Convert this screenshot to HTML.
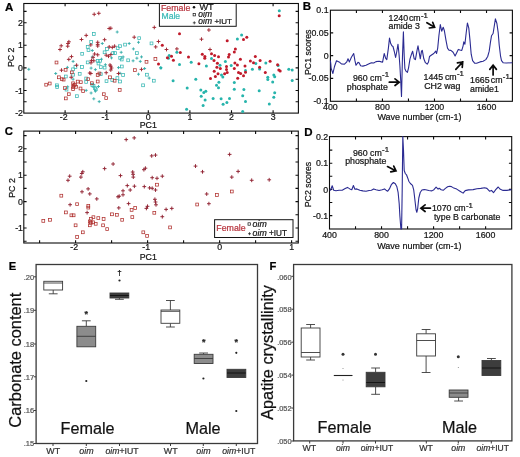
<!DOCTYPE html>
<html><head><meta charset="utf-8"><title>Figure</title>
<style>
html,body{margin:0;padding:0;background:#fff;}
body{width:520px;height:457px;overflow:hidden;}
svg{display:block;font-family:"Liberation Sans",sans-serif;filter:blur(0.3px);}
text{stroke-width:0.22px;}
</style></head><body>
<svg width="520" height="457" viewBox="0 0 520 457">
<rect width="520" height="457" fill="#fff"/>
<g id="panelA">
<rect x="23.8" y="3.5" width="274.6" height="109.6" stroke="#0c0c0c" fill="none" stroke-width="1.1"/>
<path d="M65.1 113.1v-2.8M65.1 3.5v2.8M106.7 113.1v-2.8M106.7 3.5v2.8M148.3 113.1v-2.8M148.3 3.5v2.8M189.9 113.1v-2.8M189.9 3.5v2.8M231.5 113.1v-2.8M231.5 3.5v2.8M273.1 113.1v-2.8M273.1 3.5v2.8M23.8 101.8h2.8M298.4 101.8h-2.8M23.8 90.5h2.8M298.4 90.5h-2.8M23.8 79.2h2.8M298.4 79.2h-2.8M23.8 67.9h2.8M298.4 67.9h-2.8M23.8 56.6h2.8M298.4 56.6h-2.8M23.8 45.3h2.8M298.4 45.3h-2.8M23.8 34h2.8M298.4 34h-2.8M23.8 22.7h2.8M298.4 22.7h-2.8M23.8 11.4h2.8M298.4 11.4h-2.8" stroke="#0c0c0c" stroke-width="1.1" fill="none"/>
<text x="5.1" y="10.5" font-size="11.5" fill="#000" stroke="#000" font-weight="bold">A</text>
<text x="23" y="25.8" font-size="8.8" fill="#141414" stroke="#141414" text-anchor="end">2</text>
<text x="23" y="48.4" font-size="8.8" fill="#141414" stroke="#141414" text-anchor="end">1</text>
<text x="23" y="71" font-size="8.8" fill="#141414" stroke="#141414" text-anchor="end">0</text>
<text x="23" y="93.6" font-size="8.8" fill="#141414" stroke="#141414" text-anchor="end">-1</text>
<text x="23" y="116.2" font-size="8.8" fill="#141414" stroke="#141414" text-anchor="end">-2</text>
<text x="63.7" y="119.5" font-size="8.8" fill="#141414" stroke="#141414" text-anchor="middle">-2</text>
<text x="105.3" y="119.5" font-size="8.8" fill="#141414" stroke="#141414" text-anchor="middle">-1</text>
<text x="148.3" y="119.5" font-size="8.8" fill="#141414" stroke="#141414" text-anchor="middle">0</text>
<text x="189.9" y="119.5" font-size="8.8" fill="#141414" stroke="#141414" text-anchor="middle">1</text>
<text x="231.5" y="119.5" font-size="8.8" fill="#141414" stroke="#141414" text-anchor="middle">2</text>
<text x="273.1" y="119.5" font-size="8.8" fill="#141414" stroke="#141414" text-anchor="middle">3</text>
<text x="148.3" y="127.6" font-size="8.8" fill="#141414" stroke="#141414" text-anchor="middle">PC1</text>
<text x="14.5" y="57.3" font-size="8.8" fill="#141414" stroke="#141414" text-anchor="middle" transform="rotate(-90 14.5 57.3)">PC 2</text>
<g id="ptsA"><rect x="92.4" y="32.6" width="2.8" height="2.8" fill="none" stroke="#34b6b2" stroke-width="0.75"/>
<rect x="89.8" y="40.6" width="2.8" height="2.8" fill="none" stroke="#34b6b2" stroke-width="0.75"/>
<rect x="86.3" y="45.5" width="2.8" height="2.8" fill="none" stroke="#34b6b2" stroke-width="0.75"/>
<rect x="87.1" y="48.8" width="2.8" height="2.8" fill="none" stroke="#34b6b2" stroke-width="0.75"/>
<rect x="80.8" y="52.4" width="2.8" height="2.8" fill="none" stroke="#34b6b2" stroke-width="0.75"/>
<rect x="86.3" y="61" width="2.8" height="2.8" fill="none" stroke="#34b6b2" stroke-width="0.75"/>
<rect x="80.6" y="65.6" width="2.8" height="2.8" fill="none" stroke="#34b6b2" stroke-width="0.75"/>
<rect x="74" y="65.6" width="2.8" height="2.8" fill="none" stroke="#34b6b2" stroke-width="0.75"/>
<rect x="96.3" y="59.4" width="2.8" height="2.8" fill="none" stroke="#34b6b2" stroke-width="0.75"/>
<rect x="71.7" y="67.9" width="2.8" height="2.8" fill="none" stroke="#34b6b2" stroke-width="0.75"/>
<rect x="78.3" y="72.4" width="2.8" height="2.8" fill="none" stroke="#34b6b2" stroke-width="0.75"/>
<rect x="64.4" y="75.1" width="2.8" height="2.8" fill="none" stroke="#34b6b2" stroke-width="0.75"/>
<rect x="71.7" y="73.3" width="2.8" height="2.8" fill="none" stroke="#34b6b2" stroke-width="0.75"/>
<rect x="84.8" y="77.1" width="2.8" height="2.8" fill="none" stroke="#34b6b2" stroke-width="0.75"/>
<rect x="84.8" y="80.5" width="2.8" height="2.8" fill="none" stroke="#34b6b2" stroke-width="0.75"/>
<rect x="55.5" y="83.9" width="2.8" height="2.8" fill="none" stroke="#34b6b2" stroke-width="0.75"/>
<rect x="55.8" y="85.6" width="2.8" height="2.8" fill="none" stroke="#34b6b2" stroke-width="0.75"/>
<rect x="65.1" y="88.2" width="2.8" height="2.8" fill="none" stroke="#34b6b2" stroke-width="0.75"/>
<rect x="75.5" y="94.8" width="2.8" height="2.8" fill="none" stroke="#34b6b2" stroke-width="0.75"/>
<rect x="92.1" y="84.4" width="2.8" height="2.8" fill="none" stroke="#34b6b2" stroke-width="0.75"/>
<rect x="93.5" y="86.7" width="2.8" height="2.8" fill="none" stroke="#34b6b2" stroke-width="0.75"/>
<rect x="97.1" y="62.1" width="2.8" height="2.8" fill="none" stroke="#34b6b2" stroke-width="0.75"/>
<rect x="137.8" y="36.8" width="2.8" height="2.8" fill="none" stroke="#34b6b2" stroke-width="0.75"/>
<rect x="150.1" y="42" width="2.8" height="2.8" fill="none" stroke="#34b6b2" stroke-width="0.75"/>
<rect x="123.7" y="43.2" width="2.8" height="2.8" fill="none" stroke="#34b6b2" stroke-width="0.75"/>
<rect x="118.6" y="44.8" width="2.8" height="2.8" fill="none" stroke="#34b6b2" stroke-width="0.75"/>
<rect x="116.3" y="46.8" width="2.8" height="2.8" fill="none" stroke="#34b6b2" stroke-width="0.75"/>
<rect x="135.5" y="51.7" width="2.8" height="2.8" fill="none" stroke="#34b6b2" stroke-width="0.75"/>
<rect x="111.7" y="51.7" width="2.8" height="2.8" fill="none" stroke="#34b6b2" stroke-width="0.75"/>
<rect x="113.6" y="51.7" width="2.8" height="2.8" fill="none" stroke="#34b6b2" stroke-width="0.75"/>
<rect x="103.2" y="50.9" width="2.8" height="2.8" fill="none" stroke="#34b6b2" stroke-width="0.75"/>
<rect x="118.8" y="56.5" width="2.8" height="2.8" fill="none" stroke="#34b6b2" stroke-width="0.75"/>
<rect x="120.3" y="58.1" width="2.8" height="2.8" fill="none" stroke="#34b6b2" stroke-width="0.75"/>
<rect x="126.8" y="58.9" width="2.8" height="2.8" fill="none" stroke="#34b6b2" stroke-width="0.75"/>
<rect x="98.8" y="59.4" width="2.8" height="2.8" fill="none" stroke="#34b6b2" stroke-width="0.75"/>
<rect x="120.4" y="65.1" width="2.8" height="2.8" fill="none" stroke="#34b6b2" stroke-width="0.75"/>
<rect x="99.4" y="65.7" width="2.8" height="2.8" fill="none" stroke="#34b6b2" stroke-width="0.75"/>
<rect x="103.2" y="66.2" width="2.8" height="2.8" fill="none" stroke="#34b6b2" stroke-width="0.75"/>
<rect x="145.5" y="73.3" width="2.8" height="2.8" fill="none" stroke="#34b6b2" stroke-width="0.75"/>
<rect x="152.4" y="79.3" width="2.8" height="2.8" fill="none" stroke="#34b6b2" stroke-width="0.75"/>
<rect x="141.7" y="83.9" width="2.8" height="2.8" fill="none" stroke="#34b6b2" stroke-width="0.75"/>
<rect x="121.7" y="73.6" width="2.8" height="2.8" fill="none" stroke="#34b6b2" stroke-width="0.75"/>
<rect x="118.6" y="80.1" width="2.8" height="2.8" fill="none" stroke="#34b6b2" stroke-width="0.75"/>
<rect x="116" y="76.7" width="2.8" height="2.8" fill="none" stroke="#34b6b2" stroke-width="0.75"/>
<rect x="105.1" y="79.8" width="2.8" height="2.8" fill="none" stroke="#34b6b2" stroke-width="0.75"/>
<rect x="110.9" y="78.6" width="2.8" height="2.8" fill="none" stroke="#34b6b2" stroke-width="0.75"/>
<rect x="99.4" y="72.8" width="2.8" height="2.8" fill="none" stroke="#34b6b2" stroke-width="0.75"/>
<rect x="94.4" y="87.9" width="2.8" height="2.8" fill="none" stroke="#34b6b2" stroke-width="0.75"/>
<rect x="90.9" y="83.6" width="2.8" height="2.8" fill="none" stroke="#34b6b2" stroke-width="0.75"/>
<rect x="105.6" y="47.6" width="2.8" height="2.8" fill="none" stroke="#34b6b2" stroke-width="0.75"/>
<path d="M71.6 61.4h3M73.1 59.9v3" stroke="#2eaaa6" stroke-width="0.85" fill="none"/>
<path d="M90.8 50.5h3M92.3 49v3" stroke="#2eaaa6" stroke-width="0.85" fill="none"/>
<path d="M90.8 57h3M92.3 55.5v3" stroke="#2eaaa6" stroke-width="0.85" fill="none"/>
<path d="M27.3 69.3h3M28.8 67.8v3" stroke="#2eaaa6" stroke-width="0.85" fill="none"/>
<path d="M65.9 67.4h3M67.4 65.9v3" stroke="#2eaaa6" stroke-width="0.85" fill="none"/>
<path d="M54.2 73.5h3M55.7 72v3" stroke="#2eaaa6" stroke-width="0.85" fill="none"/>
<path d="M89.6 68.1h3M91.1 66.6v3" stroke="#2eaaa6" stroke-width="0.85" fill="none"/>
<path d="M93.9 69.6h3M95.4 68.1v3" stroke="#2eaaa6" stroke-width="0.85" fill="none"/>
<path d="M66.2 86.8h3M67.7 85.3v3" stroke="#2eaaa6" stroke-width="0.85" fill="none"/>
<path d="M84.7 90.4h3M86.2 88.9v3" stroke="#2eaaa6" stroke-width="0.85" fill="none"/>
<path d="M89.6 93h3M91.1 91.5v3" stroke="#2eaaa6" stroke-width="0.85" fill="none"/>
<path d="M92.3 98.8h3M93.8 97.3v3" stroke="#2eaaa6" stroke-width="0.85" fill="none"/>
<path d="M97.7 101.6h3M99.2 100.1v3" stroke="#2eaaa6" stroke-width="0.85" fill="none"/>
<path d="M71.6 79.2h3M73.1 77.7v3" stroke="#2eaaa6" stroke-width="0.85" fill="none"/>
<path d="M93.9 91.2h3M95.4 89.7v3" stroke="#2eaaa6" stroke-width="0.85" fill="none"/>
<path d="M115.7 32h3M117.2 30.5v3" stroke="#2eaaa6" stroke-width="0.85" fill="none"/>
<path d="M127.7 43.5h3M129.2 42v3" stroke="#2eaaa6" stroke-width="0.85" fill="none"/>
<path d="M131.9 48.9h3M133.4 47.4v3" stroke="#2eaaa6" stroke-width="0.85" fill="none"/>
<path d="M137 42.3h3M138.5 40.8v3" stroke="#2eaaa6" stroke-width="0.85" fill="none"/>
<path d="M119.7 52.3h3M121.2 50.8v3" stroke="#2eaaa6" stroke-width="0.85" fill="none"/>
<path d="M100.8 43.5h3M102.3 42v3" stroke="#2eaaa6" stroke-width="0.85" fill="none"/>
<path d="M135.4 58.2h3M136.9 56.7v3" stroke="#2eaaa6" stroke-width="0.85" fill="none"/>
<path d="M140 56.9h3M141.5 55.4v3" stroke="#2eaaa6" stroke-width="0.85" fill="none"/>
<path d="M138.8 61.4h3M140.3 59.9v3" stroke="#2eaaa6" stroke-width="0.85" fill="none"/>
<path d="M131.6 60.8h3M133.1 59.3v3" stroke="#2eaaa6" stroke-width="0.85" fill="none"/>
<path d="M121.6 56.9h3M123.1 55.4v3" stroke="#2eaaa6" stroke-width="0.85" fill="none"/>
<path d="M159.3 67.5h3M160.8 66v3" stroke="#2eaaa6" stroke-width="0.85" fill="none"/>
<path d="M100 59.2h3M101.5 57.7v3" stroke="#2eaaa6" stroke-width="0.85" fill="none"/>
<path d="M117 67.6h3M118.5 66.1v3" stroke="#2eaaa6" stroke-width="0.85" fill="none"/>
<path d="M110 57.9h3M111.5 56.4v3" stroke="#2eaaa6" stroke-width="0.85" fill="none"/>
<path d="M143.1 68.5h3M144.6 67v3" stroke="#2eaaa6" stroke-width="0.85" fill="none"/>
<path d="M137 74.2h3M138.5 72.7v3" stroke="#2eaaa6" stroke-width="0.85" fill="none"/>
<path d="M147.7 78.1h3M149.2 76.6v3" stroke="#2eaaa6" stroke-width="0.85" fill="none"/>
<path d="M103.9 64.7h3M105.4 63.2v3" stroke="#2eaaa6" stroke-width="0.85" fill="none"/>
<path d="M118.5 73.2h3M120 71.7v3" stroke="#2eaaa6" stroke-width="0.85" fill="none"/>
<path d="M97 86.5h3M98.5 85v3" stroke="#2eaaa6" stroke-width="0.85" fill="none"/>
<circle cx="169.2" cy="55.5" r="1.5" fill="#27b4ac"/>
<circle cx="168.5" cy="58.3" r="1.5" fill="#27b4ac"/>
<circle cx="237.4" cy="38.9" r="1.5" fill="#27b4ac"/>
<circle cx="191.2" cy="62.3" r="1.5" fill="#27b4ac"/>
<circle cx="179.5" cy="64.6" r="1.5" fill="#27b4ac"/>
<circle cx="211.5" cy="58.5" r="1.5" fill="#27b4ac"/>
<circle cx="225.4" cy="61.5" r="1.5" fill="#27b4ac"/>
<circle cx="206.4" cy="66.1" r="1.5" fill="#27b4ac"/>
<circle cx="231.2" cy="65.4" r="1.5" fill="#27b4ac"/>
<circle cx="220" cy="65.2" r="1.5" fill="#27b4ac"/>
<circle cx="176.9" cy="52.3" r="1.5" fill="#27b4ac"/>
<circle cx="173.1" cy="80.7" r="1.5" fill="#27b4ac"/>
<circle cx="195.8" cy="79.2" r="1.5" fill="#27b4ac"/>
<circle cx="187.2" cy="88.1" r="1.5" fill="#27b4ac"/>
<circle cx="200.8" cy="89.9" r="1.5" fill="#27b4ac"/>
<circle cx="203.8" cy="92.4" r="1.5" fill="#27b4ac"/>
<circle cx="205.8" cy="91.2" r="1.5" fill="#27b4ac"/>
<circle cx="201.2" cy="96.2" r="1.5" fill="#27b4ac"/>
<circle cx="205.1" cy="99.9" r="1.5" fill="#27b4ac"/>
<circle cx="203.1" cy="105.5" r="1.5" fill="#27b4ac"/>
<circle cx="186.6" cy="109.3" r="1.5" fill="#27b4ac"/>
<circle cx="213.1" cy="98.4" r="1.5" fill="#27b4ac"/>
<circle cx="221.1" cy="98.8" r="1.5" fill="#27b4ac"/>
<circle cx="223.1" cy="104.2" r="1.5" fill="#27b4ac"/>
<circle cx="226.9" cy="102.4" r="1.5" fill="#27b4ac"/>
<circle cx="229.5" cy="98.5" r="1.5" fill="#27b4ac"/>
<circle cx="218.9" cy="82.2" r="1.5" fill="#27b4ac"/>
<circle cx="216.5" cy="85.3" r="1.5" fill="#27b4ac"/>
<circle cx="218.5" cy="87.8" r="1.5" fill="#27b4ac"/>
<circle cx="234.3" cy="82.5" r="1.5" fill="#27b4ac"/>
<circle cx="234.3" cy="89.2" r="1.5" fill="#27b4ac"/>
<circle cx="221.5" cy="75" r="1.5" fill="#27b4ac"/>
<circle cx="222.8" cy="77" r="1.5" fill="#27b4ac"/>
<circle cx="160.8" cy="68.1" r="1.5" fill="#27b4ac"/>
<circle cx="279.3" cy="10.8" r="1.5" fill="#27b4ac"/>
<circle cx="241.6" cy="35.1" r="1.5" fill="#27b4ac"/>
<circle cx="265.8" cy="63.1" r="1.5" fill="#27b4ac"/>
<circle cx="255.8" cy="63.6" r="1.5" fill="#27b4ac"/>
<circle cx="278.1" cy="65.4" r="1.5" fill="#27b4ac"/>
<circle cx="252.4" cy="69.3" r="1.5" fill="#27b4ac"/>
<circle cx="259.6" cy="69" r="1.5" fill="#27b4ac"/>
<circle cx="245.5" cy="70.4" r="1.5" fill="#27b4ac"/>
<circle cx="288.8" cy="69.3" r="1.5" fill="#27b4ac"/>
<circle cx="292.2" cy="70.1" r="1.5" fill="#27b4ac"/>
<circle cx="273.8" cy="75" r="1.5" fill="#27b4ac"/>
<circle cx="274.7" cy="76.8" r="1.5" fill="#27b4ac"/>
<circle cx="267.8" cy="77.3" r="1.5" fill="#27b4ac"/>
<circle cx="267.8" cy="79.6" r="1.5" fill="#27b4ac"/>
<circle cx="272.7" cy="81.9" r="1.5" fill="#27b4ac"/>
<circle cx="292.2" cy="80.4" r="1.5" fill="#27b4ac"/>
<circle cx="243.9" cy="89.6" r="1.5" fill="#27b4ac"/>
<circle cx="259.2" cy="90.7" r="1.5" fill="#27b4ac"/>
<circle cx="274.7" cy="92.7" r="1.5" fill="#27b4ac"/>
<circle cx="242.7" cy="95.8" r="1.5" fill="#27b4ac"/>
<circle cx="273.8" cy="97.3" r="1.5" fill="#27b4ac"/>
<circle cx="245.5" cy="101.5" r="1.5" fill="#27b4ac"/>
<circle cx="269.3" cy="103.9" r="1.5" fill="#27b4ac"/>
<circle cx="242.7" cy="111.5" r="1.5" fill="#27b4ac"/>
<rect x="55.1" y="61.1" width="2.8" height="2.8" fill="none" stroke="#b0302e" stroke-width="0.75"/>
<rect x="64.2" y="68.4" width="2.8" height="2.8" fill="none" stroke="#b0302e" stroke-width="0.75"/>
<rect x="70.4" y="71" width="2.8" height="2.8" fill="none" stroke="#b0302e" stroke-width="0.75"/>
<rect x="57.5" y="75.9" width="2.8" height="2.8" fill="none" stroke="#b0302e" stroke-width="0.75"/>
<rect x="60.4" y="77.8" width="2.8" height="2.8" fill="none" stroke="#b0302e" stroke-width="0.75"/>
<rect x="62.2" y="78.2" width="2.8" height="2.8" fill="none" stroke="#b0302e" stroke-width="0.75"/>
<rect x="44.8" y="83.3" width="2.8" height="2.8" fill="none" stroke="#b0302e" stroke-width="0.75"/>
<rect x="48.3" y="82.1" width="2.8" height="2.8" fill="none" stroke="#b0302e" stroke-width="0.75"/>
<rect x="63.5" y="86.7" width="2.8" height="2.8" fill="none" stroke="#b0302e" stroke-width="0.75"/>
<rect x="67.4" y="92.8" width="2.8" height="2.8" fill="none" stroke="#b0302e" stroke-width="0.75"/>
<rect x="64.4" y="97" width="2.8" height="2.8" fill="none" stroke="#b0302e" stroke-width="0.75"/>
<rect x="71.7" y="81.9" width="2.8" height="2.8" fill="none" stroke="#b0302e" stroke-width="0.75"/>
<rect x="72.4" y="83.9" width="2.8" height="2.8" fill="none" stroke="#b0302e" stroke-width="0.75"/>
<rect x="71.7" y="85.6" width="2.8" height="2.8" fill="none" stroke="#b0302e" stroke-width="0.75"/>
<rect x="73.6" y="83.3" width="2.8" height="2.8" fill="none" stroke="#b0302e" stroke-width="0.75"/>
<rect x="76.3" y="80.2" width="2.8" height="2.8" fill="none" stroke="#b0302e" stroke-width="0.75"/>
<rect x="79.4" y="80.8" width="2.8" height="2.8" fill="none" stroke="#b0302e" stroke-width="0.75"/>
<rect x="74.8" y="85.4" width="2.8" height="2.8" fill="none" stroke="#b0302e" stroke-width="0.75"/>
<rect x="71.7" y="87.6" width="2.8" height="2.8" fill="none" stroke="#b0302e" stroke-width="0.75"/>
<rect x="79.1" y="87.1" width="2.8" height="2.8" fill="none" stroke="#b0302e" stroke-width="0.75"/>
<rect x="81.7" y="89.8" width="2.8" height="2.8" fill="none" stroke="#b0302e" stroke-width="0.75"/>
<rect x="86.8" y="77.8" width="2.8" height="2.8" fill="none" stroke="#b0302e" stroke-width="0.75"/>
<rect x="90.4" y="81.8" width="2.8" height="2.8" fill="none" stroke="#b0302e" stroke-width="0.75"/>
<rect x="96.3" y="80.1" width="2.8" height="2.8" fill="none" stroke="#b0302e" stroke-width="0.75"/>
<rect x="96.3" y="73.6" width="2.8" height="2.8" fill="none" stroke="#b0302e" stroke-width="0.75"/>
<rect x="145.1" y="60.4" width="2.8" height="2.8" fill="none" stroke="#b0302e" stroke-width="0.75"/>
<rect x="154" y="57.6" width="2.8" height="2.8" fill="none" stroke="#b0302e" stroke-width="0.75"/>
<rect x="133.5" y="68.7" width="2.8" height="2.8" fill="none" stroke="#b0302e" stroke-width="0.75"/>
<rect x="118.3" y="88.5" width="2.8" height="2.8" fill="none" stroke="#b0302e" stroke-width="0.75"/>
<rect x="102.4" y="92.8" width="2.8" height="2.8" fill="none" stroke="#b0302e" stroke-width="0.75"/>
<rect x="104.8" y="96.7" width="2.8" height="2.8" fill="none" stroke="#b0302e" stroke-width="0.75"/>
<rect x="108.6" y="75.9" width="2.8" height="2.8" fill="none" stroke="#b0302e" stroke-width="0.75"/>
<rect x="98" y="72.1" width="2.8" height="2.8" fill="none" stroke="#b0302e" stroke-width="0.75"/>
<rect x="113.2" y="79.3" width="2.8" height="2.8" fill="none" stroke="#b0302e" stroke-width="0.75"/>
<path d="M92.3 14.3h3.8M94.2 12.4v3.8" stroke="#a02632" stroke-width="0.95" fill="none"/>
<path d="M96.9 13.3h3.8M98.8 11.4v3.8" stroke="#a02632" stroke-width="0.95" fill="none"/>
<path d="M84.3 35.4h3.8M86.2 33.5v3.8" stroke="#a02632" stroke-width="0.95" fill="none"/>
<path d="M79.6 39.5h3.8M81.5 37.6v3.8" stroke="#a02632" stroke-width="0.95" fill="none"/>
<path d="M67 41.8h3.8M68.9 39.9v3.8" stroke="#a02632" stroke-width="0.95" fill="none"/>
<path d="M66.1 43.5h3.8M68 41.6v3.8" stroke="#a02632" stroke-width="0.95" fill="none"/>
<path d="M65.8 46.2h3.8M67.7 44.3v3.8" stroke="#a02632" stroke-width="0.95" fill="none"/>
<path d="M59.3 45.8h3.8M61.2 43.9v3.8" stroke="#a02632" stroke-width="0.95" fill="none"/>
<path d="M58.1 49.5h3.8M60 47.6v3.8" stroke="#a02632" stroke-width="0.95" fill="none"/>
<path d="M69.6 56.6h3.8M71.5 54.7v3.8" stroke="#a02632" stroke-width="0.95" fill="none"/>
<path d="M66.9 59.4h3.8M68.8 57.5v3.8" stroke="#a02632" stroke-width="0.95" fill="none"/>
<path d="M95.8 42.3h3.8M97.7 40.4v3.8" stroke="#a02632" stroke-width="0.95" fill="none"/>
<path d="M95.8 44.4h3.8M97.7 42.5v3.8" stroke="#a02632" stroke-width="0.95" fill="none"/>
<path d="M95.8 46h3.8M97.7 44.1v3.8" stroke="#a02632" stroke-width="0.95" fill="none"/>
<path d="M88.9 44.9h3.8M90.8 43v3.8" stroke="#a02632" stroke-width="0.95" fill="none"/>
<path d="M92.7 54h3.8M94.6 52.1v3.8" stroke="#a02632" stroke-width="0.95" fill="none"/>
<path d="M89.1 62.8h3.8M91 60.9v3.8" stroke="#a02632" stroke-width="0.95" fill="none"/>
<path d="M74.7 65.2h3.8M76.6 63.3v3.8" stroke="#a02632" stroke-width="0.95" fill="none"/>
<path d="M59.6 70.2h3.8M61.5 68.3v3.8" stroke="#a02632" stroke-width="0.95" fill="none"/>
<path d="M69.3 77.3h3.8M71.2 75.4v3.8" stroke="#a02632" stroke-width="0.95" fill="none"/>
<path d="M87.8 73h3.8M89.7 71.1v3.8" stroke="#a02632" stroke-width="0.95" fill="none"/>
<path d="M89.6 60.4h3.8M91.5 58.5v3.8" stroke="#a02632" stroke-width="0.95" fill="none"/>
<path d="M107.3 28.5h3.8M109.2 26.6v3.8" stroke="#a02632" stroke-width="0.95" fill="none"/>
<path d="M108.9 28.2h3.8M110.8 26.3v3.8" stroke="#a02632" stroke-width="0.95" fill="none"/>
<path d="M152.4 27.4h3.8M154.3 25.5v3.8" stroke="#a02632" stroke-width="0.95" fill="none"/>
<path d="M132.3 37.2h3.8M134.2 35.3v3.8" stroke="#a02632" stroke-width="0.95" fill="none"/>
<path d="M102.7 39.7h3.8M104.6 37.8v3.8" stroke="#a02632" stroke-width="0.95" fill="none"/>
<path d="M107.3 46.9h3.8M109.2 45v3.8" stroke="#a02632" stroke-width="0.95" fill="none"/>
<path d="M110.4 47.4h3.8M112.3 45.5v3.8" stroke="#a02632" stroke-width="0.95" fill="none"/>
<path d="M112.7 46.2h3.8M114.6 44.3v3.8" stroke="#a02632" stroke-width="0.95" fill="none"/>
<path d="M156.6 41.5h3.8M158.5 39.6v3.8" stroke="#a02632" stroke-width="0.95" fill="none"/>
<path d="M153.8 46.9h3.8M155.7 45v3.8" stroke="#a02632" stroke-width="0.95" fill="none"/>
<path d="M164.6 49.5h3.8M166.5 47.6v3.8" stroke="#a02632" stroke-width="0.95" fill="none"/>
<path d="M104.3 55.2h3.8M106.2 53.3v3.8" stroke="#a02632" stroke-width="0.95" fill="none"/>
<path d="M106.6 56.2h3.8M108.5 54.3v3.8" stroke="#a02632" stroke-width="0.95" fill="none"/>
<path d="M108.9 54.6h3.8M110.8 52.7v3.8" stroke="#a02632" stroke-width="0.95" fill="none"/>
<path d="M91.9 60.8h3.8M93.8 58.9v3.8" stroke="#a02632" stroke-width="0.95" fill="none"/>
<path d="M108.9 66.2h3.8M110.8 64.3v3.8" stroke="#a02632" stroke-width="0.95" fill="none"/>
<path d="M109.6 68h3.8M111.5 66.1v3.8" stroke="#a02632" stroke-width="0.95" fill="none"/>
<path d="M139.6 69.4h3.8M141.5 67.5v3.8" stroke="#a02632" stroke-width="0.95" fill="none"/>
<path d="M108.1 65h3.8M110 63.1v3.8" stroke="#a02632" stroke-width="0.95" fill="none"/>
<path d="M108.9 70h3.8M110.8 68.1v3.8" stroke="#a02632" stroke-width="0.95" fill="none"/>
<path d="M104.3 72.7h3.8M106.2 70.8v3.8" stroke="#a02632" stroke-width="0.95" fill="none"/>
<path d="M116.6 73.5h3.8M118.5 71.6v3.8" stroke="#a02632" stroke-width="0.95" fill="none"/>
<path d="M91.2 57.3h3.8M93.1 55.4v3.8" stroke="#a02632" stroke-width="0.95" fill="none"/>
<path d="M88.9 73.5h3.8M90.8 71.6v3.8" stroke="#a02632" stroke-width="0.95" fill="none"/>
<path d="M207 30h3.8M208.9 28.1v3.8" stroke="#a02632" stroke-width="0.95" fill="none"/>
<path d="M199.6 39.2h3.8M201.5 37.3v3.8" stroke="#a02632" stroke-width="0.95" fill="none"/>
<path d="M175 48.9h3.8M176.9 47v3.8" stroke="#a02632" stroke-width="0.95" fill="none"/>
<path d="M208.1 49.5h3.8M210 47.6v3.8" stroke="#a02632" stroke-width="0.95" fill="none"/>
<path d="M95.8 54.8h3.8M97.7 52.9v3.8" stroke="#a02632" stroke-width="0.95" fill="none"/>
<circle cx="162.3" cy="45.2" r="1.5" fill="#c01a2a"/>
<circle cx="158.5" cy="64" r="1.5" fill="#c01a2a"/>
<circle cx="167.4" cy="57.7" r="1.5" fill="#c01a2a"/>
<circle cx="179.5" cy="33.8" r="1.5" fill="#c01a2a"/>
<circle cx="227.2" cy="40.7" r="1.5" fill="#c01a2a"/>
<circle cx="180.3" cy="52.6" r="1.5" fill="#c01a2a"/>
<circle cx="188.5" cy="57.1" r="1.5" fill="#c01a2a"/>
<circle cx="202.3" cy="54.2" r="1.5" fill="#c01a2a"/>
<circle cx="204.9" cy="56.5" r="1.5" fill="#c01a2a"/>
<circle cx="204.8" cy="58.2" r="1.5" fill="#c01a2a"/>
<circle cx="211.5" cy="53.8" r="1.5" fill="#c01a2a"/>
<circle cx="214.6" cy="55.4" r="1.5" fill="#c01a2a"/>
<circle cx="218.5" cy="56.7" r="1.5" fill="#c01a2a"/>
<circle cx="214" cy="60.6" r="1.5" fill="#c01a2a"/>
<circle cx="217.4" cy="63.3" r="1.5" fill="#c01a2a"/>
<circle cx="229.2" cy="54.4" r="1.5" fill="#c01a2a"/>
<circle cx="228.5" cy="57.1" r="1.5" fill="#c01a2a"/>
<circle cx="235.4" cy="49" r="1.5" fill="#c01a2a"/>
<circle cx="234.3" cy="52.1" r="1.5" fill="#c01a2a"/>
<circle cx="171.5" cy="56.2" r="1.5" fill="#c01a2a"/>
<circle cx="173.4" cy="60.2" r="1.5" fill="#c01a2a"/>
<circle cx="198.9" cy="63.8" r="1.5" fill="#c01a2a"/>
<circle cx="226.5" cy="66.5" r="1.5" fill="#c01a2a"/>
<circle cx="234.9" cy="62.9" r="1.5" fill="#c01a2a"/>
<circle cx="216.9" cy="67.3" r="1.5" fill="#c01a2a"/>
<circle cx="220.3" cy="68.4" r="1.5" fill="#c01a2a"/>
<circle cx="214.2" cy="71.2" r="1.5" fill="#c01a2a"/>
<circle cx="218" cy="73.8" r="1.5" fill="#c01a2a"/>
<circle cx="215.4" cy="76.5" r="1.5" fill="#c01a2a"/>
<circle cx="210.5" cy="78.4" r="1.5" fill="#c01a2a"/>
<circle cx="226.5" cy="69.6" r="1.5" fill="#c01a2a"/>
<circle cx="227.2" cy="72.4" r="1.5" fill="#c01a2a"/>
<circle cx="224.6" cy="73.8" r="1.5" fill="#c01a2a"/>
<circle cx="237.4" cy="65" r="1.5" fill="#c01a2a"/>
<circle cx="234.3" cy="68.5" r="1.5" fill="#c01a2a"/>
<circle cx="238.5" cy="72.6" r="1.5" fill="#c01a2a"/>
<circle cx="237.7" cy="78.2" r="1.5" fill="#c01a2a"/>
<circle cx="279.2" cy="15.8" r="1.5" fill="#c01a2a"/>
<circle cx="246.8" cy="37.2" r="1.5" fill="#c01a2a"/>
<circle cx="243.5" cy="39.5" r="1.5" fill="#c01a2a"/>
<circle cx="255.3" cy="56.4" r="1.5" fill="#c01a2a"/>
<circle cx="240.4" cy="59.2" r="1.5" fill="#c01a2a"/>
<circle cx="250.4" cy="61" r="1.5" fill="#c01a2a"/>
<circle cx="253.5" cy="62.8" r="1.5" fill="#c01a2a"/>
<circle cx="260.1" cy="60.6" r="1.5" fill="#c01a2a"/>
<circle cx="270.1" cy="61.2" r="1.5" fill="#c01a2a"/>
<circle cx="245" cy="66" r="1.5" fill="#c01a2a"/>
<circle cx="259.6" cy="67.3" r="1.5" fill="#c01a2a"/>
<circle cx="277.6" cy="64.7" r="1.5" fill="#c01a2a"/>
<circle cx="278.8" cy="70.1" r="1.5" fill="#c01a2a"/>
<circle cx="280.2" cy="70.9" r="1.5" fill="#c01a2a"/>
<circle cx="265.3" cy="72.4" r="1.5" fill="#c01a2a"/>
<circle cx="240.6" cy="73.4" r="1.5" fill="#c01a2a"/>
<circle cx="245.5" cy="72.2" r="1.5" fill="#c01a2a"/>
<circle cx="243.5" cy="75.8" r="1.5" fill="#c01a2a"/></g>
<rect x="159.4" y="3.5" width="76.8" height="22.8" stroke="#141414" fill="#fff" stroke-width="1"/>
<text x="161" y="10.8" font-size="8.8" fill="#b8343e" stroke="#b8343e">Female</text>
<text x="161.5" y="19.2" font-size="8.6" fill="#38b9b6" stroke="#38b9b6">Male</text>
<circle cx="194" cy="7.2" r="1.25" fill="#141414"/>
<text x="199.4" y="10" font-size="9.2" fill="#141414" stroke="#141414">WT</text>
<rect x="193.1" y="13.5" width="2.4" height="2.4" fill="none" stroke="#141414" stroke-width="0.7"/>
<text x="198.3" y="17.3" font-size="8.5" fill="#141414" stroke="#141414" font-style="italic">oim</text>
<path d="M192.8 22.8h3M194.3 21.3v3" stroke="#141414" stroke-width="0.7" fill="none"/>
<text x="198.3" y="24.4" font-size="8.5" fill="#141414" stroke="#141414"><tspan font-style="italic">oim</tspan><tspan dx="2.4" font-size="8">+IUT</tspan></text>
</g>
<g id="panelB">
<rect x="330.4" y="10.2" width="182" height="91.1" stroke="#0c0c0c" fill="none" stroke-width="1.1"/>
<path d="M356.42 101.3v-2.8M356.42 10.2v2.8M382.44 101.3v-2.8M382.44 10.2v2.8M408.46 101.3v-2.8M434.48 101.3v-2.8M434.48 10.2v2.8M460.5 101.3v-2.8M460.5 10.2v2.8M486.52 101.3v-2.8M486.52 10.2v2.8M330.4 32.85h2.8M512.4 32.85h-2.8M330.4 55.6h2.8M512.4 55.6h-2.8M330.4 78.35h2.8M512.4 78.35h-2.8" stroke="#0c0c0c" stroke-width="1.1" fill="none"/>
<text x="302.8" y="9.6" font-size="11.5" fill="#000" stroke="#000" font-weight="bold">B</text>
<text x="328.6" y="13.2" font-size="8.8" fill="#141414" stroke="#141414" text-anchor="end">0.1</text>
<text x="328.6" y="35.95" font-size="8.8" fill="#141414" stroke="#141414" text-anchor="end">0.05</text>
<text x="328.6" y="58.7" font-size="8.8" fill="#141414" stroke="#141414" text-anchor="end">0</text>
<text x="328.6" y="81.45" font-size="8.8" fill="#141414" stroke="#141414" text-anchor="end">-0.05</text>
<text x="328.6" y="104.2" font-size="8.8" fill="#141414" stroke="#141414" text-anchor="end">-0.1</text>
<text x="330.4" y="110.4" font-size="8.8" fill="#141414" stroke="#141414" text-anchor="middle">400</text>
<text x="382.44" y="110.4" font-size="8.8" fill="#141414" stroke="#141414" text-anchor="middle">800</text>
<text x="434.48" y="110.4" font-size="8.8" fill="#141414" stroke="#141414" text-anchor="middle">1200</text>
<text x="486.52" y="110.4" font-size="8.8" fill="#141414" stroke="#141414" text-anchor="middle">1600</text>
<text x="419.5" y="119.6" font-size="9" fill="#141414" stroke="#141414" text-anchor="middle">Wave number (cm-1)</text>
<text x="311" y="52.3" font-size="8.8" fill="#141414" stroke="#141414" text-anchor="middle" transform="rotate(-90 311 52.3)">PC1 scores</text>
<g id="curveB"><polyline points="330.4,60.5 330.8,64 331.1,68.1 332.9,73.5 334.5,66.5 336.5,60.7 339.1,61.9 341.4,63.9 344.5,64.2 346.8,61.9 348,58.8 349.4,61.9 351.4,57.3 353.7,53.5 354.9,60.4 356,65.3 358,62.4 359.1,62.7 360.6,65.8 362.9,66.1 366,65.3 369.1,63.8 371.4,62.7 373.7,63 376,61.6 379.1,61.2 381.4,61.9 382.6,62.2 384.2,53.5 385.7,58.3 386.8,59.6 388.4,48.1 389.5,38.1 390.7,43.5 391.9,45.8 393,46.5 394.3,51.5 395.6,57.5 396.8,51.5 398,44.2 399.1,55 399.9,66 400.7,80 401.5,96.5 402.5,55.8 403.4,31.9 404.2,55.8 404.9,68.8 406,71.2 407.4,72.4 408.5,68.1 410,58.8 411.5,54.2 412.6,51.2 414.2,58.8 415.4,59.6 416.9,51.2 418,45.8 419.2,52.7 420.3,58.8 421.5,51.2 422.3,50.4 423.8,58.8 425.4,62.7 427.2,64.2 428.5,61.9 429.5,56.5 431.5,55 433.8,53.5 435.7,51.2 436.6,53.5 437.7,48.1 438.9,35.8 440.3,24.5 441.7,31.2 443.2,27.3 444.4,30.8 446,40.4 447.5,48.1 449,50.2 450.9,50.4 453.1,52.2 455.1,56 456.7,52.7 458.3,49.4 460,50 461.8,50.4 463.1,45.8 463.8,41.9 464.9,44.2 466.2,32.7 467.4,23 468.8,28.1 470,40.4 471.2,54.2 472.6,60.7 474.6,63.2 476.6,63.2 480,61.9 483.1,61.2 485.8,59.6 487.7,56.5 489.2,51.2 490.5,41.9 491.5,35.8 493.1,33.5 494.2,26.5 495.4,18.8 496.9,23.5 498.2,32.7 499.2,45 500.5,55.8 501.5,60.7 503.1,62.7 506.2,63 512.3,62.7" fill="none" stroke="#2b2b92" stroke-width="1.1" stroke-linejoin="round"/></g>
<text x="388.5" y="21.2" font-size="8.8" fill="#141414" stroke="#141414">1240<tspan dx="-1.6"> cm</tspan><tspan dy="-3.4" dx="0.3" font-size="7.8">-1</tspan></text>
<text x="388.5" y="29.3" font-size="8.8" fill="#141414" stroke="#141414">amide 3</text>
<path d="M426.9 22.7L434.6 27.3M429.3 27.98L434.6 27.3L432.69 22.31" stroke="#0a0a0a" stroke-width="1.7" fill="none" stroke-linecap="round" stroke-linejoin="miter"/>
<text x="352.9" y="80.7" font-size="8.8" fill="#141414" stroke="#141414">960<tspan dx="0"> cm</tspan><tspan dy="-3.4" dx="0.3" font-size="7.8">-1</tspan></text>
<text x="346.8" y="90.4" font-size="8.8" fill="#141414" stroke="#141414">phosphate</text>
<path d="M389.3 82.2L399.2 82.2M395 85.5L399.2 82.2L395 78.9" stroke="#0a0a0a" stroke-width="1.7" fill="none" stroke-linecap="round" stroke-linejoin="miter"/>
<text x="423.5" y="79.8" font-size="8.8" fill="#141414" stroke="#141414">1445<tspan dx="-0.6"> cm</tspan><tspan dy="-3.4" dx="0.3" font-size="7.8">-1</tspan></text>
<text x="424.2" y="89.2" font-size="8.8" fill="#141414" stroke="#141414">CH2 wag</text>
<path d="M455.8 69.4L462.7 62M462.25 67.32L462.7 62L457.42 62.82" stroke="#0a0a0a" stroke-width="1.7" fill="none" stroke-linecap="round" stroke-linejoin="miter"/>
<text x="470" y="82.7" font-size="8.8" fill="#141414" stroke="#141414">1665<tspan dx="-1.2"> cm</tspan><tspan dy="-3.4" dx="0.3" font-size="7.8">-1</tspan></text>
<text x="470" y="92.4" font-size="8.8" fill="#141414" stroke="#141414">amide1</text>
<path d="M493.1 75L493.1 65.2M496.4 69.4L493.1 65.2L489.8 69.4" stroke="#0a0a0a" stroke-width="1.7" fill="none" stroke-linecap="round" stroke-linejoin="miter"/>
</g>
<g id="panelC">
<rect x="23.8" y="131.1" width="274.5" height="111.9" stroke="#0c0c0c" fill="none" stroke-width="1.1"/>
<path d="M39.6 243v-2.8M39.6 131.1v2.8M75.6 243v-2.8M75.6 131.1v2.8M111.6 243v-2.8M111.6 131.1v2.8M147.6 243v-2.8M147.6 131.1v2.8M183.6 243v-2.8M183.6 131.1v2.8M219.6 243v-2.8M219.6 131.1v2.8M255.6 243v-2.8M255.6 131.1v2.8M291.6 243v-2.8M291.6 131.1v2.8M23.8 241.2h2.8M298.3 241.2h-2.8M23.8 228h2.8M298.3 228h-2.8M23.8 214.8h2.8M298.3 214.8h-2.8M23.8 201.6h2.8M298.3 201.6h-2.8M23.8 188.4h2.8M298.3 188.4h-2.8M23.8 175.2h2.8M298.3 175.2h-2.8M23.8 162h2.8M298.3 162h-2.8M23.8 148.8h2.8M298.3 148.8h-2.8M23.8 135.6h2.8M298.3 135.6h-2.8" stroke="#0c0c0c" stroke-width="1.1" fill="none"/>
<text x="4.7" y="135.1" font-size="11.3" fill="#000" stroke="#000" font-weight="bold">C</text>
<text x="23" y="151.9" font-size="8.8" fill="#141414" stroke="#141414" text-anchor="end">2</text>
<text x="23" y="178.3" font-size="8.8" fill="#141414" stroke="#141414" text-anchor="end">1</text>
<text x="23" y="204.7" font-size="8.8" fill="#141414" stroke="#141414" text-anchor="end">0</text>
<text x="23" y="231.1" font-size="8.8" fill="#141414" stroke="#141414" text-anchor="end">-1</text>
<text x="74.2" y="249.8" font-size="8.8" fill="#141414" stroke="#141414" text-anchor="middle">-2</text>
<text x="146.2" y="249.8" font-size="8.8" fill="#141414" stroke="#141414" text-anchor="middle">-1</text>
<text x="219.6" y="249.8" font-size="8.8" fill="#141414" stroke="#141414" text-anchor="middle">0</text>
<text x="291.6" y="249.8" font-size="8.8" fill="#141414" stroke="#141414" text-anchor="middle">1</text>
<text x="148.3" y="259.6" font-size="8.8" fill="#141414" stroke="#141414" text-anchor="middle">PC1</text>
<text x="14.5" y="188" font-size="8.8" fill="#141414" stroke="#141414" text-anchor="middle" transform="rotate(-90 14.5 188)">PC 2</text>
<g id="ptsC"><rect x="59.9" y="194.3" width="2.8" height="2.8" fill="none" stroke="#b0302e" stroke-width="0.75"/>
<rect x="75.7" y="202.8" width="2.8" height="2.8" fill="none" stroke="#b0302e" stroke-width="0.75"/>
<rect x="86.9" y="204.5" width="2.8" height="2.8" fill="none" stroke="#b0302e" stroke-width="0.75"/>
<rect x="86.9" y="206.2" width="2.8" height="2.8" fill="none" stroke="#b0302e" stroke-width="0.75"/>
<rect x="64.5" y="211" width="2.8" height="2.8" fill="none" stroke="#b0302e" stroke-width="0.75"/>
<rect x="70" y="213.9" width="2.8" height="2.8" fill="none" stroke="#b0302e" stroke-width="0.75"/>
<rect x="72.2" y="213.9" width="2.8" height="2.8" fill="none" stroke="#b0302e" stroke-width="0.75"/>
<rect x="41.9" y="219.5" width="2.8" height="2.8" fill="none" stroke="#b0302e" stroke-width="0.75"/>
<rect x="48.6" y="218.4" width="2.8" height="2.8" fill="none" stroke="#b0302e" stroke-width="0.75"/>
<rect x="110.6" y="212.9" width="2.8" height="2.8" fill="none" stroke="#b0302e" stroke-width="0.75"/>
<rect x="115.5" y="213.4" width="2.8" height="2.8" fill="none" stroke="#b0302e" stroke-width="0.75"/>
<rect x="92" y="215.8" width="2.8" height="2.8" fill="none" stroke="#b0302e" stroke-width="0.75"/>
<rect x="89.5" y="217.4" width="2.8" height="2.8" fill="none" stroke="#b0302e" stroke-width="0.75"/>
<rect x="96.9" y="216.7" width="2.8" height="2.8" fill="none" stroke="#b0302e" stroke-width="0.75"/>
<rect x="102.2" y="217.6" width="2.8" height="2.8" fill="none" stroke="#b0302e" stroke-width="0.75"/>
<rect x="120.8" y="218.4" width="2.8" height="2.8" fill="none" stroke="#b0302e" stroke-width="0.75"/>
<rect x="88.4" y="220" width="2.8" height="2.8" fill="none" stroke="#b0302e" stroke-width="0.75"/>
<rect x="89.5" y="221.4" width="2.8" height="2.8" fill="none" stroke="#b0302e" stroke-width="0.75"/>
<rect x="91.6" y="220.9" width="2.8" height="2.8" fill="none" stroke="#b0302e" stroke-width="0.75"/>
<rect x="94.3" y="222.4" width="2.8" height="2.8" fill="none" stroke="#b0302e" stroke-width="0.75"/>
<rect x="101.7" y="223.9" width="2.8" height="2.8" fill="none" stroke="#b0302e" stroke-width="0.75"/>
<rect x="88.4" y="223.9" width="2.8" height="2.8" fill="none" stroke="#b0302e" stroke-width="0.75"/>
<rect x="74.2" y="223.9" width="2.8" height="2.8" fill="none" stroke="#b0302e" stroke-width="0.75"/>
<rect x="105.8" y="227.7" width="2.8" height="2.8" fill="none" stroke="#b0302e" stroke-width="0.75"/>
<rect x="81.4" y="230.9" width="2.8" height="2.8" fill="none" stroke="#b0302e" stroke-width="0.75"/>
<rect x="75.7" y="235.6" width="2.8" height="2.8" fill="none" stroke="#b0302e" stroke-width="0.75"/>
<rect x="155.6" y="183.3" width="2.8" height="2.8" fill="none" stroke="#b0302e" stroke-width="0.75"/>
<rect x="215.5" y="193.6" width="2.8" height="2.8" fill="none" stroke="#b0302e" stroke-width="0.75"/>
<rect x="195.8" y="203.1" width="2.8" height="2.8" fill="none" stroke="#b0302e" stroke-width="0.75"/>
<rect x="133.8" y="206.6" width="2.8" height="2.8" fill="none" stroke="#b0302e" stroke-width="0.75"/>
<rect x="130.2" y="208.5" width="2.8" height="2.8" fill="none" stroke="#b0302e" stroke-width="0.75"/>
<rect x="152.9" y="211.4" width="2.8" height="2.8" fill="none" stroke="#b0302e" stroke-width="0.75"/>
<rect x="130.9" y="215.7" width="2.8" height="2.8" fill="none" stroke="#b0302e" stroke-width="0.75"/>
<rect x="168.7" y="226" width="2.8" height="2.8" fill="none" stroke="#b0302e" stroke-width="0.75"/>
<rect x="141.9" y="230.9" width="2.8" height="2.8" fill="none" stroke="#b0302e" stroke-width="0.75"/>
<rect x="145.7" y="234.5" width="2.8" height="2.8" fill="none" stroke="#b0302e" stroke-width="0.75"/>
<rect x="230.4" y="190.1" width="2.8" height="2.8" fill="none" stroke="#b0302e" stroke-width="0.75"/>
<path d="M124.3 139.6h3.8M126.2 137.7v3.8" stroke="#902232" stroke-width="0.95" fill="none"/>
<path d="M132.3 137.9h3.8M134.2 136v3.8" stroke="#902232" stroke-width="0.95" fill="none"/>
<path d="M111.2 164h3.8M113.1 162.1v3.8" stroke="#902232" stroke-width="0.95" fill="none"/>
<path d="M102.7 168.6h3.8M104.6 166.7v3.8" stroke="#902232" stroke-width="0.95" fill="none"/>
<path d="M80.9 171.8h3.8M82.8 169.9v3.8" stroke="#902232" stroke-width="0.95" fill="none"/>
<path d="M79.9 173.5h3.8M81.8 171.6v3.8" stroke="#902232" stroke-width="0.95" fill="none"/>
<path d="M79 177.1h3.8M80.9 175.2v3.8" stroke="#902232" stroke-width="0.95" fill="none"/>
<path d="M67.8 176.2h3.8M69.7 174.3v3.8" stroke="#902232" stroke-width="0.95" fill="none"/>
<path d="M66.1 180.3h3.8M68 178.4v3.8" stroke="#902232" stroke-width="0.95" fill="none"/>
<path d="M118.6 175.6h3.8M120.5 173.7v3.8" stroke="#902232" stroke-width="0.95" fill="none"/>
<path d="M125.4 185.6h3.8M127.3 183.7v3.8" stroke="#902232" stroke-width="0.95" fill="none"/>
<path d="M86.2 188.9h3.8M88.1 187v3.8" stroke="#902232" stroke-width="0.95" fill="none"/>
<path d="M80.1 191.8h3.8M82 189.9v3.8" stroke="#902232" stroke-width="0.95" fill="none"/>
<path d="M87.9 193.9h3.8M89.8 192v3.8" stroke="#902232" stroke-width="0.95" fill="none"/>
<path d="M121.1 190.8h3.8M123 188.9v3.8" stroke="#902232" stroke-width="0.95" fill="none"/>
<path d="M121.1 194.8h3.8M123 192.9v3.8" stroke="#902232" stroke-width="0.95" fill="none"/>
<path d="M116.1 196.8h3.8M118 194.9v3.8" stroke="#902232" stroke-width="0.95" fill="none"/>
<path d="M117.3 196.2h3.8M119.2 194.3v3.8" stroke="#902232" stroke-width="0.95" fill="none"/>
<path d="M94.9 198.9h3.8M96.8 197v3.8" stroke="#902232" stroke-width="0.95" fill="none"/>
<path d="M68.2 204.7h3.8M70.1 202.8v3.8" stroke="#902232" stroke-width="0.95" fill="none"/>
<path d="M116.9 207.9h3.8M118.8 206v3.8" stroke="#902232" stroke-width="0.95" fill="none"/>
<path d="M126.7 203.6h3.8M128.6 201.7v3.8" stroke="#902232" stroke-width="0.95" fill="none"/>
<path d="M85.2 212.6h3.8M87.1 210.7v3.8" stroke="#902232" stroke-width="0.95" fill="none"/>
<path d="M149.8 155.9h3.8M151.7 154v3.8" stroke="#902232" stroke-width="0.95" fill="none"/>
<path d="M153.6 155.1h3.8M155.5 153.2v3.8" stroke="#902232" stroke-width="0.95" fill="none"/>
<path d="M227.7 154.4h3.8M229.6 152.5v3.8" stroke="#902232" stroke-width="0.95" fill="none"/>
<path d="M193.6 166.1h3.8M195.5 164.2v3.8" stroke="#902232" stroke-width="0.95" fill="none"/>
<path d="M200.6 171.8h3.8M202.5 169.9v3.8" stroke="#902232" stroke-width="0.95" fill="none"/>
<path d="M142 169.7h3.8M143.9 167.8v3.8" stroke="#902232" stroke-width="0.95" fill="none"/>
<path d="M143.5 168.2h3.8M145.4 166.3v3.8" stroke="#902232" stroke-width="0.95" fill="none"/>
<path d="M130.8 172h3.8M132.7 170.1v3.8" stroke="#902232" stroke-width="0.95" fill="none"/>
<path d="M131.2 174.3h3.8M133.1 172.4v3.8" stroke="#902232" stroke-width="0.95" fill="none"/>
<path d="M131.4 177.1h3.8M133.3 175.2v3.8" stroke="#902232" stroke-width="0.95" fill="none"/>
<path d="M150.3 177.7h3.8M152.2 175.8v3.8" stroke="#902232" stroke-width="0.95" fill="none"/>
<path d="M155.1 178.3h3.8M157 176.4v3.8" stroke="#902232" stroke-width="0.95" fill="none"/>
<path d="M160.4 176.2h3.8M162.3 174.3v3.8" stroke="#902232" stroke-width="0.95" fill="none"/>
<path d="M132.5 186.2h3.8M134.4 184.3v3.8" stroke="#902232" stroke-width="0.95" fill="none"/>
<path d="M142.4 186.6h3.8M144.3 184.7v3.8" stroke="#902232" stroke-width="0.95" fill="none"/>
<path d="M147.7 187.9h3.8M149.6 186v3.8" stroke="#902232" stroke-width="0.95" fill="none"/>
<path d="M150.3 188.3h3.8M152.2 186.4v3.8" stroke="#902232" stroke-width="0.95" fill="none"/>
<path d="M153.6 190h3.8M155.5 188.1v3.8" stroke="#902232" stroke-width="0.95" fill="none"/>
<path d="M128.3 190h3.8M130.2 188.1v3.8" stroke="#902232" stroke-width="0.95" fill="none"/>
<path d="M204.8 194h3.8M206.7 192.1v3.8" stroke="#902232" stroke-width="0.95" fill="none"/>
<path d="M153 199.3h3.8M154.9 197.4v3.8" stroke="#902232" stroke-width="0.95" fill="none"/>
<path d="M153.6 202h3.8M155.5 200.1v3.8" stroke="#902232" stroke-width="0.95" fill="none"/>
<path d="M154.1 204.8h3.8M156 202.9v3.8" stroke="#902232" stroke-width="0.95" fill="none"/>
<path d="M207 203.7h3.8M208.9 201.8v3.8" stroke="#902232" stroke-width="0.95" fill="none"/>
<path d="M145.6 206.3h3.8M147.5 204.4v3.8" stroke="#902232" stroke-width="0.95" fill="none"/>
<path d="M144.5 208.4h3.8M146.4 206.5v3.8" stroke="#902232" stroke-width="0.95" fill="none"/>
<path d="M164.2 209.4h3.8M166.1 207.5v3.8" stroke="#902232" stroke-width="0.95" fill="none"/>
<path d="M169.9 208.4h3.8M171.8 206.5v3.8" stroke="#902232" stroke-width="0.95" fill="none"/>
<path d="M160.4 216.7h3.8M162.3 214.8v3.8" stroke="#902232" stroke-width="0.95" fill="none"/>
<path d="M236.2 171.4h3.8M238.1 169.5v3.8" stroke="#902232" stroke-width="0.95" fill="none"/>
<path d="M229.9 177.1h3.8M231.8 175.2v3.8" stroke="#902232" stroke-width="0.95" fill="none"/>
<path d="M249.8 180.3h3.8M251.7 178.4v3.8" stroke="#902232" stroke-width="0.95" fill="none"/>
<path d="M267.3 179.8h3.8M269.2 177.9v3.8" stroke="#902232" stroke-width="0.95" fill="none"/></g>
<rect x="214.6" y="219.7" width="78.4" height="17.8" stroke="#141414" fill="#fff" stroke-width="1"/>
<text x="216.3" y="231.3" font-size="8.8" fill="#b8343e" stroke="#b8343e">Female</text>
<rect x="248" y="222.8" width="2.4" height="2.4" fill="none" stroke="#141414" stroke-width="0.7"/>
<text x="252.6" y="226.9" font-size="8.8" fill="#141414" stroke="#141414" font-style="italic">oim</text>
<path d="M248 233.7h3M249.5 232.2v3" stroke="#141414" stroke-width="0.7" fill="none"/>
<text x="252.6" y="235.7" font-size="8.8" fill="#141414" stroke="#141414"><tspan font-style="italic">oim</tspan><tspan dx="2.2" font-size="8.2">+IUT</tspan></text>
</g>
<g id="panelD">
<rect x="329.5" y="136.6" width="182.2" height="92.4" stroke="#0c0c0c" fill="none" stroke-width="1.1"/>
<path d="M355.52 229v-2.8M355.52 136.6v2.8M381.54 229v-2.8M381.54 136.6v2.8M407.56 229v-2.8M407.56 136.6v2.8M433.58 229v-2.8M433.58 136.6v2.8M459.6 229v-2.8M459.6 136.6v2.8M485.62 229v-2.8M485.62 136.6v2.8M329.5 150.1h2.8M511.7 150.1h-2.8M329.5 163.2h2.8M511.7 163.2h-2.8M329.5 176.3h2.8M511.7 176.3h-2.8M329.5 189.4h2.8M511.7 189.4h-2.8M329.5 202.5h2.8M511.7 202.5h-2.8M329.5 215.6h2.8M511.7 215.6h-2.8" stroke="#0c0c0c" stroke-width="1.1" fill="none"/>
<text x="304.2" y="136.3" font-size="11.5" fill="#000" stroke="#000" font-weight="bold">D</text>
<text x="328.2" y="140.1" font-size="8.8" fill="#141414" stroke="#141414" text-anchor="end">0.2</text>
<text x="328.2" y="166.3" font-size="8.8" fill="#141414" stroke="#141414" text-anchor="end">0.1</text>
<text x="328.2" y="192.5" font-size="8.8" fill="#141414" stroke="#141414" text-anchor="end">0</text>
<text x="328.2" y="218.7" font-size="8.8" fill="#141414" stroke="#141414" text-anchor="end">-0.1</text>
<text x="329.5" y="238.4" font-size="8.8" fill="#141414" stroke="#141414" text-anchor="middle">400</text>
<text x="381.54" y="238.4" font-size="8.8" fill="#141414" stroke="#141414" text-anchor="middle">800</text>
<text x="433.58" y="238.4" font-size="8.8" fill="#141414" stroke="#141414" text-anchor="middle">1200</text>
<text x="485.62" y="238.4" font-size="8.8" fill="#141414" stroke="#141414" text-anchor="middle">1600</text>
<text x="419.3" y="248.6" font-size="9" fill="#141414" stroke="#141414" text-anchor="middle">Wave number (cm-1)</text>
<text x="311.2" y="184.5" font-size="8.8" fill="#141414" stroke="#141414" text-anchor="middle" transform="rotate(-90 311.2 184.5)">PC2 scores</text>
<g id="curveD"><polyline points="329.6,189.7 330.6,190.2 332.2,185.8 333.7,190.2 336,190.8 339.1,190.2 342.2,190.2 345.2,188.6 347.5,187.4 349.8,188.9 351.8,189.7 353.4,185.5 354.9,189.2 356.8,188.9 359.8,190.2 362.9,190.9 366,191.2 369.1,190.5 371.4,190.2 373.7,188.9 376,189.7 379.1,190.5 382.2,189.7 384.5,188.9 386,190.2 387.7,191.2 389.4,188.9 391.3,184.7 393.4,182.5 395.3,183.7 396.9,186.8 398.1,192.3 399.2,203.8 399.9,216.2 400.9,229 401.6,229 402.2,190 402.8,136.6 403.5,150 404.2,170.5 405.3,173.5 406.5,174.8 407.8,178.2 408.8,181.2 410.4,183.5 412.5,185.3 413.7,189.8 414.8,199 416,209.5 416.8,212.3 417.6,209.2 418.8,198 420.2,192.5 421.9,190 424.2,189.6 425.8,189.7 428.8,190.5 431.9,190.9 433.9,189.7 436.1,187.1 438.1,189.2 439.2,188.2 441.2,189.7 443.2,190.3 445.4,188.4 447.6,186.8 449.6,186.2 451.5,186.6 453.8,188.1 456.7,189.1 460,191.2 463.1,193.1 465.2,190.6 468.5,189.9 473.1,189.6 476.9,188.8 480.8,188.4 484.6,187.8 486.9,188.4 489.5,191.2 491.5,190.4 493.5,192.7 495.7,189.6 498.2,187 500.3,189.3 503.1,190.4 506.9,190.4 511.5,189.6" fill="none" stroke="#2b2b92" stroke-width="1.1" stroke-linejoin="round"/></g>
<text x="352.9" y="155.8" font-size="8.8" fill="#141414" stroke="#141414">960<tspan dx="0"> cm</tspan><tspan dy="-3.4" dx="0.3" font-size="7.8">-1</tspan></text>
<text x="345.2" y="164.3" font-size="8.8" fill="#141414" stroke="#141414">phosphate</text>
<path d="M387.5 166.6L396 170.9M390.76 171.95L396 170.9L393.74 166.06" stroke="#0a0a0a" stroke-width="1.7" fill="none" stroke-linecap="round" stroke-linejoin="miter"/>
<text x="431.9" y="211" font-size="8.8" fill="#141414" stroke="#141414">1070<tspan dx="0"> cm</tspan><tspan dy="-3.4" dx="0.3" font-size="7.8">-1</tspan></text>
<text x="433.9" y="219.6" font-size="8.8" fill="#141414" stroke="#141414">type B carbonate</text>
<path d="M430.4 208.2L420.9 208.2M425.1 204.9L420.9 208.2L425.1 211.5" stroke="#0a0a0a" stroke-width="1.7" fill="none" stroke-linecap="round" stroke-linejoin="miter"/>
</g>
<g id="panelE">
<rect x="36.1" y="264.5" width="221.4" height="179" stroke="#3a3a3a" fill="none" stroke-width="1.3"/>
<text x="8.8" y="269.9" font-size="11.2" fill="#000" stroke="#000" font-weight="bold">E</text>
<line x1="33.8" y1="276.8" x2="36" y2="276.8" stroke="#3a3a3a" stroke-width="1"/>
<text x="34.2" y="279.6" font-size="7.5" fill="#555" stroke="#555" text-anchor="end" stroke-width="0">.20</text>
<line x1="33.8" y1="310.3" x2="36" y2="310.3" stroke="#3a3a3a" stroke-width="1"/>
<text x="34.2" y="313.1" font-size="7.5" fill="#555" stroke="#555" text-anchor="end" stroke-width="0">.19</text>
<line x1="33.8" y1="344" x2="36" y2="344" stroke="#3a3a3a" stroke-width="1"/>
<text x="34.2" y="346.8" font-size="7.5" fill="#555" stroke="#555" text-anchor="end" stroke-width="0">.18</text>
<line x1="33.8" y1="376.8" x2="36" y2="376.8" stroke="#3a3a3a" stroke-width="1"/>
<text x="34.2" y="379.6" font-size="7.5" fill="#555" stroke="#555" text-anchor="end" stroke-width="0">.17</text>
<line x1="33.8" y1="410.5" x2="36" y2="410.5" stroke="#3a3a3a" stroke-width="1"/>
<text x="34.2" y="413.3" font-size="7.5" fill="#555" stroke="#555" text-anchor="end" stroke-width="0">.16</text>
<line x1="33.8" y1="443.5" x2="36" y2="443.5" stroke="#3a3a3a" stroke-width="1"/>
<text x="34.2" y="446.3" font-size="7.5" fill="#555" stroke="#555" text-anchor="end" stroke-width="0">.15</text>
<line x1="53" y1="443.5" x2="53" y2="446" stroke="#3a3a3a" stroke-width="1"/>
<text x="53.2" y="453.8" font-size="8.9" fill="#333" stroke="#333" text-anchor="middle">WT</text>
<line x1="86.3" y1="443.5" x2="86.3" y2="446" stroke="#3a3a3a" stroke-width="1"/>
<text x="86.5" y="453.8" font-size="8.9" fill="#333" stroke="#333" text-anchor="middle" font-style="italic">oim</text>
<line x1="119.5" y1="443.5" x2="119.5" y2="446" stroke="#3a3a3a" stroke-width="1"/>
<text x="122" y="453.8" font-size="8.7" fill="#333" stroke="#333" text-anchor="middle"><tspan font-style="italic">oim</tspan>+IUT</text>
<line x1="170.5" y1="443.5" x2="170.5" y2="446" stroke="#3a3a3a" stroke-width="1"/>
<text x="170.7" y="453.8" font-size="8.9" fill="#333" stroke="#333" text-anchor="middle">WT</text>
<line x1="203.3" y1="443.5" x2="203.3" y2="446" stroke="#3a3a3a" stroke-width="1"/>
<text x="203.5" y="453.8" font-size="8.9" fill="#333" stroke="#333" text-anchor="middle" font-style="italic">oim</text>
<line x1="236.3" y1="443.5" x2="236.3" y2="446" stroke="#3a3a3a" stroke-width="1"/>
<text x="238.8" y="453.8" font-size="8.7" fill="#333" stroke="#333" text-anchor="middle"><tspan font-style="italic">oim</tspan>+IUT</text>
<text x="20.6" y="360.2" font-size="16.4" fill="#111" stroke="#111" text-anchor="middle" transform="rotate(-90 20.6 360.2)" stroke-width="0.35">Carbonate content</text>
<text x="87.5" y="433.5" font-size="16.2" fill="#111" stroke="#111" text-anchor="middle" stroke-width="0.35">Female</text>
<text x="203" y="433.5" font-size="16.2" fill="#111" stroke="#111" text-anchor="middle" stroke-width="0.35">Male</text>
<g id="boxE">
<path d="M53.2 290V293.8M48.8 293.8H57.6" stroke="#3a3a3a" stroke-width="0.9" fill="none"/><rect x="43.8" y="281.3" width="18.8" height="8.7" fill="#fff" stroke="#3a3a3a" stroke-width="0.9"/><path d="M43.8 283H62.6" stroke="#3a3a3a" stroke-width="0.9"/>
<path d="M86.3 326.3V320.8M81.9 320.8H90.7" stroke="#3a3a3a" stroke-width="0.9" fill="none"/><rect x="76.9" y="326.3" width="18.8" height="20.5" fill="#8c8c8c" stroke="#3a3a3a" stroke-width="0.9"/><path d="M76.9 336.3H95.7" stroke="#3a3a3a" stroke-width="0.9"/>
<text x="86.3" y="317" font-size="9" fill="#222" stroke="#222" text-anchor="middle" font-weight="bold">*</text>
<circle cx="86.3" cy="381" r="1.1" fill="#222"/>
<path d="M119.4 298V299.3M115 299.3H123.8" stroke="#3a3a3a" stroke-width="0.9" fill="none"/><rect x="110" y="293" width="18.8" height="5" fill="#3d3d3d" stroke="#3a3a3a" stroke-width="0.9"/><path d="M110 295.5H128.8" stroke="#111" stroke-width="0.9"/>
<text x="119.5" y="275.2" font-size="8" fill="#222" stroke="#222" text-anchor="middle" font-weight="bold">†</text>
<circle cx="119.5" cy="280.5" r="1.1" fill="#222"/>
<path d="M170.4 310V300.5M166 300.5H174.8" stroke="#3a3a3a" stroke-width="0.9" fill="none"/><path d="M170.4 323.3V327M166 327H174.8" stroke="#3a3a3a" stroke-width="0.9" fill="none"/><rect x="161" y="310" width="18.8" height="13.3" fill="#fff" stroke="#3a3a3a" stroke-width="0.9"/><path d="M161 311.3H179.8" stroke="#3a3a3a" stroke-width="0.9"/>
<path d="M203.6 354.3V353M199.2 353H208" stroke="#3a3a3a" stroke-width="0.9" fill="none"/><rect x="194.2" y="354.3" width="18.8" height="9.2" fill="#8c8c8c" stroke="#3a3a3a" stroke-width="0.9"/><path d="M194.2 358.5H213" stroke="#3a3a3a" stroke-width="0.9"/>
<text x="203.7" y="344.5" font-size="9" fill="#222" stroke="#222" text-anchor="middle" font-weight="bold">*</text>
<circle cx="203.4" cy="378.5" r="1.1" fill="#222"/>
<rect x="227" y="369.3" width="18.8" height="8.2" fill="#3d3d3d" stroke="#3a3a3a" stroke-width="0.9"/><path d="M227 373H245.8" stroke="#111" stroke-width="0.9"/>
<text x="236.3" y="344.5" font-size="9" fill="#222" stroke="#222" text-anchor="middle" font-weight="bold">*</text>
<circle cx="236.3" cy="352.8" r="1.1" fill="#222"/>
<circle cx="236.3" cy="411" r="1.1" fill="#222"/>
</g>
</g>
<g id="panelF">
<rect x="293.6" y="264.5" width="218.3" height="176.4" stroke="#3a3a3a" fill="none" stroke-width="1.3"/>
<text x="269.5" y="270.1" font-size="11.2" fill="#000" stroke="#000" font-weight="bold">F</text>
<line x1="291.3" y1="276.3" x2="293.5" y2="276.3" stroke="#3a3a3a" stroke-width="1"/>
<text x="291.6" y="279.5" font-size="7.4" fill="#555" stroke="#555" text-anchor="end" stroke-width="0">.060</text>
<line x1="291.3" y1="309.24" x2="293.5" y2="309.24" stroke="#3a3a3a" stroke-width="1"/>
<text x="291.6" y="312.44" font-size="7.4" fill="#555" stroke="#555" text-anchor="end" stroke-width="0">.058</text>
<line x1="291.3" y1="342.18" x2="293.5" y2="342.18" stroke="#3a3a3a" stroke-width="1"/>
<text x="291.6" y="345.38" font-size="7.4" fill="#555" stroke="#555" text-anchor="end" stroke-width="0">.056</text>
<line x1="291.3" y1="375.12" x2="293.5" y2="375.12" stroke="#3a3a3a" stroke-width="1"/>
<text x="291.6" y="378.32" font-size="7.4" fill="#555" stroke="#555" text-anchor="end" stroke-width="0">.054</text>
<line x1="291.3" y1="408.06" x2="293.5" y2="408.06" stroke="#3a3a3a" stroke-width="1"/>
<text x="291.6" y="411.26" font-size="7.4" fill="#555" stroke="#555" text-anchor="end" stroke-width="0">.052</text>
<line x1="291.3" y1="441" x2="293.5" y2="441" stroke="#3a3a3a" stroke-width="1"/>
<text x="291.6" y="444.2" font-size="7.4" fill="#555" stroke="#555" text-anchor="end" stroke-width="0">.050</text>
<line x1="309.7" y1="441" x2="309.7" y2="443.5" stroke="#3a3a3a" stroke-width="1"/>
<text x="309.4" y="450.8" font-size="8.8" fill="#333" stroke="#333" text-anchor="middle">WT</text>
<line x1="343" y1="441" x2="343" y2="443.5" stroke="#3a3a3a" stroke-width="1"/>
<text x="343" y="450.8" font-size="8.7" fill="#333" stroke="#333" text-anchor="middle" font-style="italic">oim</text>
<line x1="375.5" y1="441" x2="375.5" y2="443.5" stroke="#3a3a3a" stroke-width="1"/>
<text x="376.9" y="450.8" font-size="8.5" fill="#333" stroke="#333" text-anchor="middle"><tspan font-style="italic">oim</tspan>+IUT</text>
<line x1="426.3" y1="441" x2="426.3" y2="443.5" stroke="#3a3a3a" stroke-width="1"/>
<text x="426" y="450.8" font-size="8.8" fill="#333" stroke="#333" text-anchor="middle">WT</text>
<line x1="458.3" y1="441" x2="458.3" y2="443.5" stroke="#3a3a3a" stroke-width="1"/>
<text x="458.3" y="450.8" font-size="8.7" fill="#333" stroke="#333" text-anchor="middle" font-style="italic">oim</text>
<line x1="491.3" y1="441" x2="491.3" y2="443.5" stroke="#3a3a3a" stroke-width="1"/>
<text x="492.7" y="450.8" font-size="8.5" fill="#333" stroke="#333" text-anchor="middle"><tspan font-style="italic">oim</tspan>+IUT</text>
<text x="272.7" y="352.4" font-size="16.3" fill="#111" stroke="#111" text-anchor="middle" transform="rotate(-90 272.7 352.4)" stroke-width="0.35">Apatite crystallinity</text>
<text x="344.5" y="432.5" font-size="16.2" fill="#111" stroke="#111" text-anchor="middle" stroke-width="0.35">Female</text>
<text x="459.5" y="432.5" font-size="16.2" fill="#111" stroke="#111" text-anchor="middle" stroke-width="0.35">Male</text>
<g id="boxF">
<path d="M310.6 328V324.5M306.2 324.5H315" stroke="#3a3a3a" stroke-width="0.9" fill="none"/><path d="M310.6 357V360M306.2 360H315" stroke="#3a3a3a" stroke-width="0.9" fill="none"/><rect x="301.2" y="328" width="18.8" height="29" fill="#fff" stroke="#3a3a3a" stroke-width="0.9"/><path d="M301.2 352.5H320" stroke="#3a3a3a" stroke-width="0.9"/>
<path d="M333.8 375.5H352.5" stroke="#222" stroke-width="1.1"/>
<circle cx="343" cy="354.3" r="1.5" fill="#333"/>
<circle cx="343" cy="368.5" r="0.5" fill="#777"/>
<circle cx="343" cy="380" r="0.5" fill="#777"/>
<path d="M375.6 372.3V368M371.2 368H380" stroke="#3a3a3a" stroke-width="0.9" fill="none"/><path d="M375.6 386.8V394.3M371.2 394.3H380" stroke="#3a3a3a" stroke-width="0.9" fill="none"/><rect x="366.2" y="372.3" width="18.8" height="14.5" fill="#3d3d3d" stroke="#3a3a3a" stroke-width="0.9"/><path d="M366.2 382.5H385" stroke="#111" stroke-width="0.9"/>
<circle cx="375.5" cy="354.3" r="1.5" fill="#333"/>
<path d="M426.1 333.8V329.5M421.7 329.5H430.5" stroke="#3a3a3a" stroke-width="0.9" fill="none"/><path d="M426.1 356V372.5M421.7 372.5H430.5" stroke="#3a3a3a" stroke-width="0.9" fill="none"/><rect x="416.7" y="333.8" width="18.8" height="22.2" fill="#fff" stroke="#3a3a3a" stroke-width="0.9"/><path d="M416.7 340.5H435.5" stroke="#3a3a3a" stroke-width="0.9"/>
<path d="M458.6 397.3V401M454.2 401H463" stroke="#3a3a3a" stroke-width="0.9" fill="none"/><rect x="449.2" y="390" width="18.8" height="7.3" fill="#8c8c8c" stroke="#3a3a3a" stroke-width="0.9"/><path d="M449.2 393H468" stroke="#3a3a3a" stroke-width="0.9"/>
<circle cx="458.3" cy="356.8" r="1.5" fill="#333"/>
<circle cx="458.3" cy="367.5" r="0.5" fill="#777"/>
<path d="M491.4 360.5V358.5M487 358.5H495.8" stroke="#3a3a3a" stroke-width="0.9" fill="none"/><rect x="482" y="360.5" width="18.8" height="15" fill="#3d3d3d" stroke="#3a3a3a" stroke-width="0.9"/><path d="M482 368H500.8" stroke="#111" stroke-width="0.9"/>
</g>
</g>
</svg>
</body></html>
